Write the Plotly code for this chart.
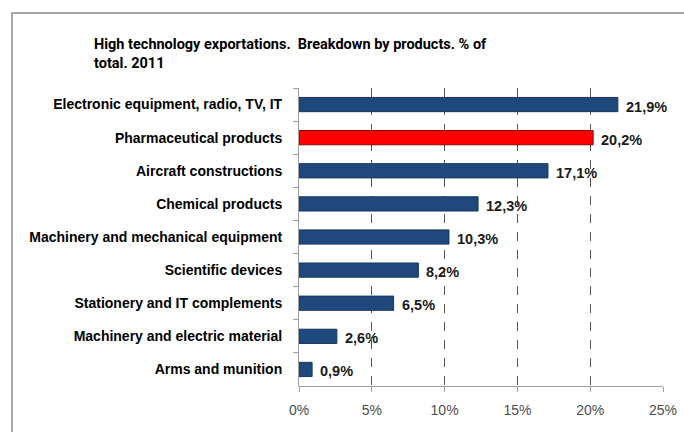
import plotly.graph_objects as go

categories = [
    "Electronic equipment, radio, TV, IT",
    "Pharmaceutical products",
    "Aircraft constructions",
    "Chemical products",
    "Machinery and mechanical equipment",
    "Scientific devices",
    "Stationery and IT complements",
    "Machinery and electric material",
    "Arms and munition",
]
values = [21.9, 20.2, 17.1, 12.3, 10.3, 8.2, 6.5, 2.6, 0.9]
highlight = "Pharmaceutical products"
tick_vals = [0, 5, 10, 15, 20, 25]
tick_text = ["0%", "5%", "10%", "15%", "20%", "25%"]
title_text = "High technology exportations.  Breakdown by products. % of<br>total. 2011"

BLUE = "#1F497D"
RED = "#FF0000"
colors = [RED if c == highlight else BLUE for c in categories]
lines = ["#8B0000" if c == highlight else "#17375E" for c in categories]

fig = go.Figure()
fig.add_trace(go.Bar(
    x=values, y=categories, orientation="h",
    marker=dict(color=colors, line=dict(color=lines, width=1)),
    width=0.43, showlegend=False, hoverinfo="skip",
))

for c, v in zip(categories, values):
    fig.add_annotation(
        x=v, y=c, xref="x", yref="y",
        text="<b>" + f"{v:.1f}".replace(".", ",") + "%</b>",
        showarrow=False, xanchor="left", yanchor="middle", xshift=6, yshift=-2,
        font=dict(family="Liberation Sans", size=14.5, color="#1A1A1A"),
    )

W, H = 684, 432
L, R, T, B = 299, 21, 88, 46
pw, ph = W - L - R, H - T - B

def px_x(p):
    return (p - L) / pw

def px_y(p):
    return (H - B - p) / ph

fig.add_annotation(
    x=px_x(92), y=px_y(34), xref="paper", yref="paper",
    text="<b>" + title_text + "</b>", showarrow=False, align="left",
    xanchor="left", yanchor="top",
    font=dict(family="Roboto, Liberation Sans", size=14.5, color="#000000"),
)

fig.add_shape(
    type="rect", xref="paper", yref="paper",
    x0=px_x(12), x1=px_x(700), y0=px_y(450), y1=px_y(13),
    line=dict(color="#A6A6A6", width=2), layer="below",
)

fig.update_layout(
    width=W, height=H,
    margin=dict(l=L, r=R, t=T, b=B, pad=0, autoexpand=False),
    paper_bgcolor="white", plot_bgcolor="white",
    bargap=0.57,
    xaxis=dict(
        range=[0, 25], tickvals=tick_vals, ticktext=tick_text, automargin=False,
        showgrid=True, gridcolor="#555555", griddash="dash", gridwidth=1,
        zeroline=False, showline=True, linecolor="#A0A0A0", linewidth=1,
        ticks="outside", ticklen=5, tickcolor="#A0A0A0",
        tickfont=dict(family="Liberation Sans", size=14, color="#4D4D4D"),
        ticklabelstandoff=6, fixedrange=True,
    ),
    yaxis=dict(
        autorange="reversed", type="category", automargin=False,
        showline=True, linecolor="#A0A0A0", linewidth=1,
        ticks="outside", ticklen=5, tickcolor="#A0A0A0", tickson="boundaries",
        tickfont=dict(family="Liberation Sans", size=14, color="#000000", weight="bold"),
        ticklabelstandoff=13, showgrid=False, fixedrange=True,
    ),
)

fig.write_html("out.html")
